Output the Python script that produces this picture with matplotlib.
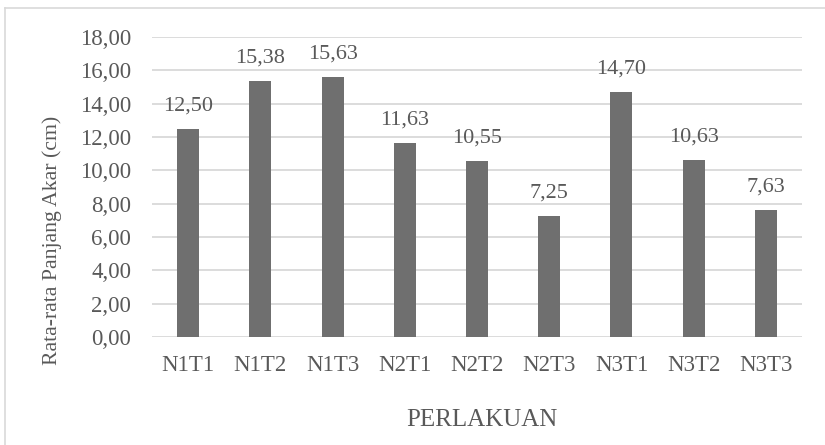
import matplotlib
matplotlib.use("Agg")
import matplotlib.pyplot as plt
from matplotlib.lines import Line2D

categories = ["N1T1", "N1T2", "N1T3", "N2T1", "N2T2", "N2T3", "N3T1", "N3T2", "N3T3"]
values = [12.50, 15.38, 15.63, 11.63, 10.55, 7.25, 14.70, 10.63, 7.63]
yticks = [0, 2, 4, 6, 8, 10, 12, 14, 16, 18]

plt.rcParams['font.family'] = ['Liberation Serif', 'DejaVu Serif']
txt = '#595959'
W, H = 825, 445

fig = plt.figure(figsize=(8.25, 4.45), dpi=100)
ax = fig.add_axes([152/W, 1-337/H, 650/W, 300/H])

x = list(range(len(categories)))
ax.bar(x, values, width=0.305, color='#6f6f6f', zorder=3)
for xi, v in zip(x, values):
    ax.text(xi, v + 0.8, f"{v:.2f}".replace('.', ','), ha='center', va='bottom',
            fontsize=16, color=txt)

ax.set_xlim(-0.5, len(categories) - 0.5)
ax.set_ylim(0, 18)
ax.set_yticks(yticks)
ax.set_yticklabels([f"{t:.2f}".replace('.', ',') for t in yticks])
ax.set_xticks(x)
ax.set_xticklabels(categories)
ax.tick_params(axis='both', length=0, labelsize=16.5, colors=txt)
ax.tick_params(axis='y', pad=15)
ax.tick_params(axis='x', pad=13)
ax.grid(axis='y', color='#d9d9d9', linewidth=1.3, zorder=0)
for s in ax.spines.values():
    s.set_visible(False)

fig.text(482/W, 1-420/H, "PERLAKUAN", fontsize=18, color=txt, ha='center', va='center')
fig.text(52/W, 1-240/H, "Rata-rata Panjang Akar (cm)", fontsize=15.7, color=txt,
         rotation=90, ha='center', va='center')

fig.add_artist(Line2D([5/W, 1], [1-8/H, 1-8/H], transform=fig.transFigure,
                      color='#d9d9d9', linewidth=1.2))
fig.add_artist(Line2D([5/W, 5/W], [0, 1-8/H], transform=fig.transFigure,
                      color='#d9d9d9', linewidth=1.2))

fig.savefig("out.png", dpi=100)
